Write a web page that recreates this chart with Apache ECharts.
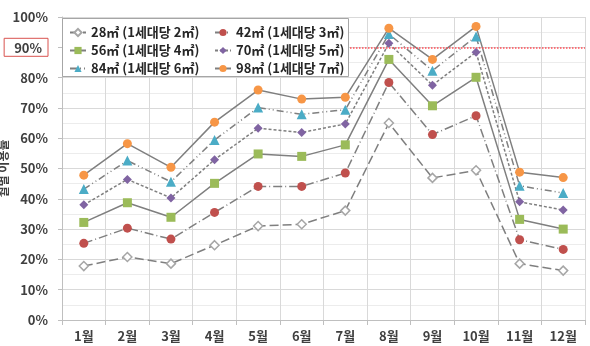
<!DOCTYPE html>
<html>
<head>
<meta charset="utf-8">
<script src="https://cdn.jsdelivr.net/npm/echarts@6/dist/echarts.min.js"></script>
<style>
    html, body { margin: 0; padding: 0; background: #fff; }
    #main { width: 590px; height: 346px; }
</style>
</head>
<body>
<div id="main"></div>
<script>
    // 월별 데이터
    var months = ['1월', '2월', '3월', '4월', '5월', '6월', '7월', '8월', '9월', '10월', '11월', '12월'];
    var names = ['28㎡ (1세대당 2㎡)', '42㎡ (1세대당 3㎡)', '56㎡ (1세대당 4㎡)',
                 '70㎡ (1세대당 5㎡)', '84㎡ (1세대당 6㎡)', '98㎡ (1세대당 7㎡)'];
    var s28 = [17.8, 20.8, 18.6, 24.7, 31, 31.6, 36.1, 65, 46.9, 49.4, 18.6, 16.3];
    var s42 = [25.3, 30.3, 26.7, 35.5, 44.1, 44.1, 48.5, 78.4, 61.2, 67.4, 26.5, 23.3];
    var s56 = [32.2, 38.7, 33.9, 45.1, 54.8, 54.0, 57.8, 86.0, 70.7, 80.1, 33.2, 30.0];
    var s70 = [38.0, 46.4, 40.3, 52.9, 63.3, 61.9, 64.7, 91.3, 77.5, 88.4, 39.0, 36.3];
    var s84 = [43.2, 52.6, 45.6, 59.4, 70.1, 67.9, 69.4, 94.4, 82.3, 93.6, 44.3, 41.9];
    var s98 = [47.8, 58.2, 50.4, 65.3, 75.9, 72.9, 73.5, 96.3, 86.0, 96.9, 48.8, 47.0];
    var yTicks = [0, 10, 20, 30, 40, 50, 60, 70, 80, 90, 100];
    var targetLine = 90;

    var font = '"Noto Sans CJK KR", "Noto Sans", sans-serif';
    var lineGray = '#7f7f7f';

    var myChart = echarts.init(document.getElementById('main'));

    function makeSeries(name, data, color, symbol, dash, hollow) {
        return {
            name: name,
            type: 'line',
            data: data,
            symbol: symbol,
            symbolSize: symbol === 'triangle' ? 10 : 9,
            z: 3,
            lineStyle: { color: lineGray, width: 1.5, type: dash },
            itemStyle: hollow ? { color: '#fff', borderColor: color, borderWidth: 1.5 } : { color: color, borderWidth: 0 }
        };
    }

    var series = [
        makeSeries(names[0], s28, '#a6a6a6', 'diamond', [9, 4], true),
        makeSeries(names[1], s42, '#c0504d', 'circle', [9, 3, 1, 3], false),
        makeSeries(names[2], s56, '#9bbb59', 'rect', 'solid', false),
        makeSeries(names[3], s70, '#8064a2', 'diamond', [3, 2], false),
        makeSeries(names[4], s84, '#4bacc6', 'triangle', [7, 3, 1, 3, 1, 3], false),
        makeSeries(names[5], s98, '#f79646', 'circle', 'solid', false)
    ];
    // 90% 기준선
    series.push({
        type: 'line',
        data: [],
        z: 2,
        color: '#ff4d57',
        markLine: {
            silent: true,
            symbol: 'none',
            label: { show: false },
            lineStyle: { color: '#ff4d57', type: 'dotted', width: 1.5 },
            data: [{ yAxis: targetLine, lineStyle: { color: '#ff4d57' } }]
        }
    });

    var legendText = { fontFamily: font, fontSize: 13, fontWeight: 'bold', color: '#262626' };

    var option = {
        animation: false,
        grid: { left: 62, right: 5, top: 17, bottom: 26, containLabel: false, outerBoundsMode: 'none' },
        graphic: [{
            type: 'rect',
            left: 62, top: 18, z: 50,
            shape: { width: 286, height: 58 },
            style: { fill: '#fff', stroke: '#a6a6a6', lineWidth: 1 }
        }],
        legend: [{
            data: [names[0], names[2], names[4]],
            orient: 'vertical', left: 64, top: 21, z: 60,
            itemWidth: 16, itemHeight: 9, itemGap: 5,
            textStyle: legendText
        }, {
            data: [names[1], names[3], names[5]],
            orient: 'vertical', left: 209, top: 21, z: 60,
            itemWidth: 16, itemHeight: 9, itemGap: 5,
            textStyle: legendText
        }],
        xAxis: {
            type: 'category',
            data: months,
            boundaryGap: true,
            axisLine: { lineStyle: { color: '#bfbfbf' } },
            axisTick: { show: true, length: 5, lineStyle: { color: '#bfbfbf' } },
            axisLabel: { fontFamily: font, fontSize: 13, fontWeight: 'bold', color: '#404040', margin: 10 },
            splitLine: { show: true, lineStyle: { color: '#d9d9d9' } }
        },
        yAxis: {
            type: 'value',
            min: yTicks[0],
            max: yTicks[yTicks.length - 1],
            interval: 10,
            name: '월별 이용률',
            nameLocation: 'middle',
            nameRotate: 90,
            nameGap: 53,
            nameMoveOverlap: false,
            nameTextStyle: { fontFamily: font, fontSize: 12, fontWeight: 'bold', color: '#404040' },
            axisLine: { show: true, lineStyle: { color: '#bfbfbf' } },
            axisTick: { show: true, length: 4, lineStyle: { color: '#bfbfbf' } },
            axisLabel: {
                fontFamily: font, fontSize: 13, fontWeight: 'bold', color: '#404040', margin: 14,
                formatter: function (v) {
                    return v === targetLine ? '{r|' + v + '%}' : v + '%';
                },
                rich: {
                    r: {
                        fontFamily: font, fontSize: 13, fontWeight: 'bold', color: '#404040',
                        borderColor: '#d9534f', borderWidth: 1, padding: [3, 6, 2, 10]
                    }
                }
            },
            splitLine: { show: true, lineStyle: { color: '#d9d9d9' } },
            minorTick: { show: false, splitNumber: 2 },
            minorSplitLine: { show: true, lineStyle: { color: '#ececec' } }
        },
        series: series
    };

    myChart.setOption(option);
</script>
</body>
</html>
